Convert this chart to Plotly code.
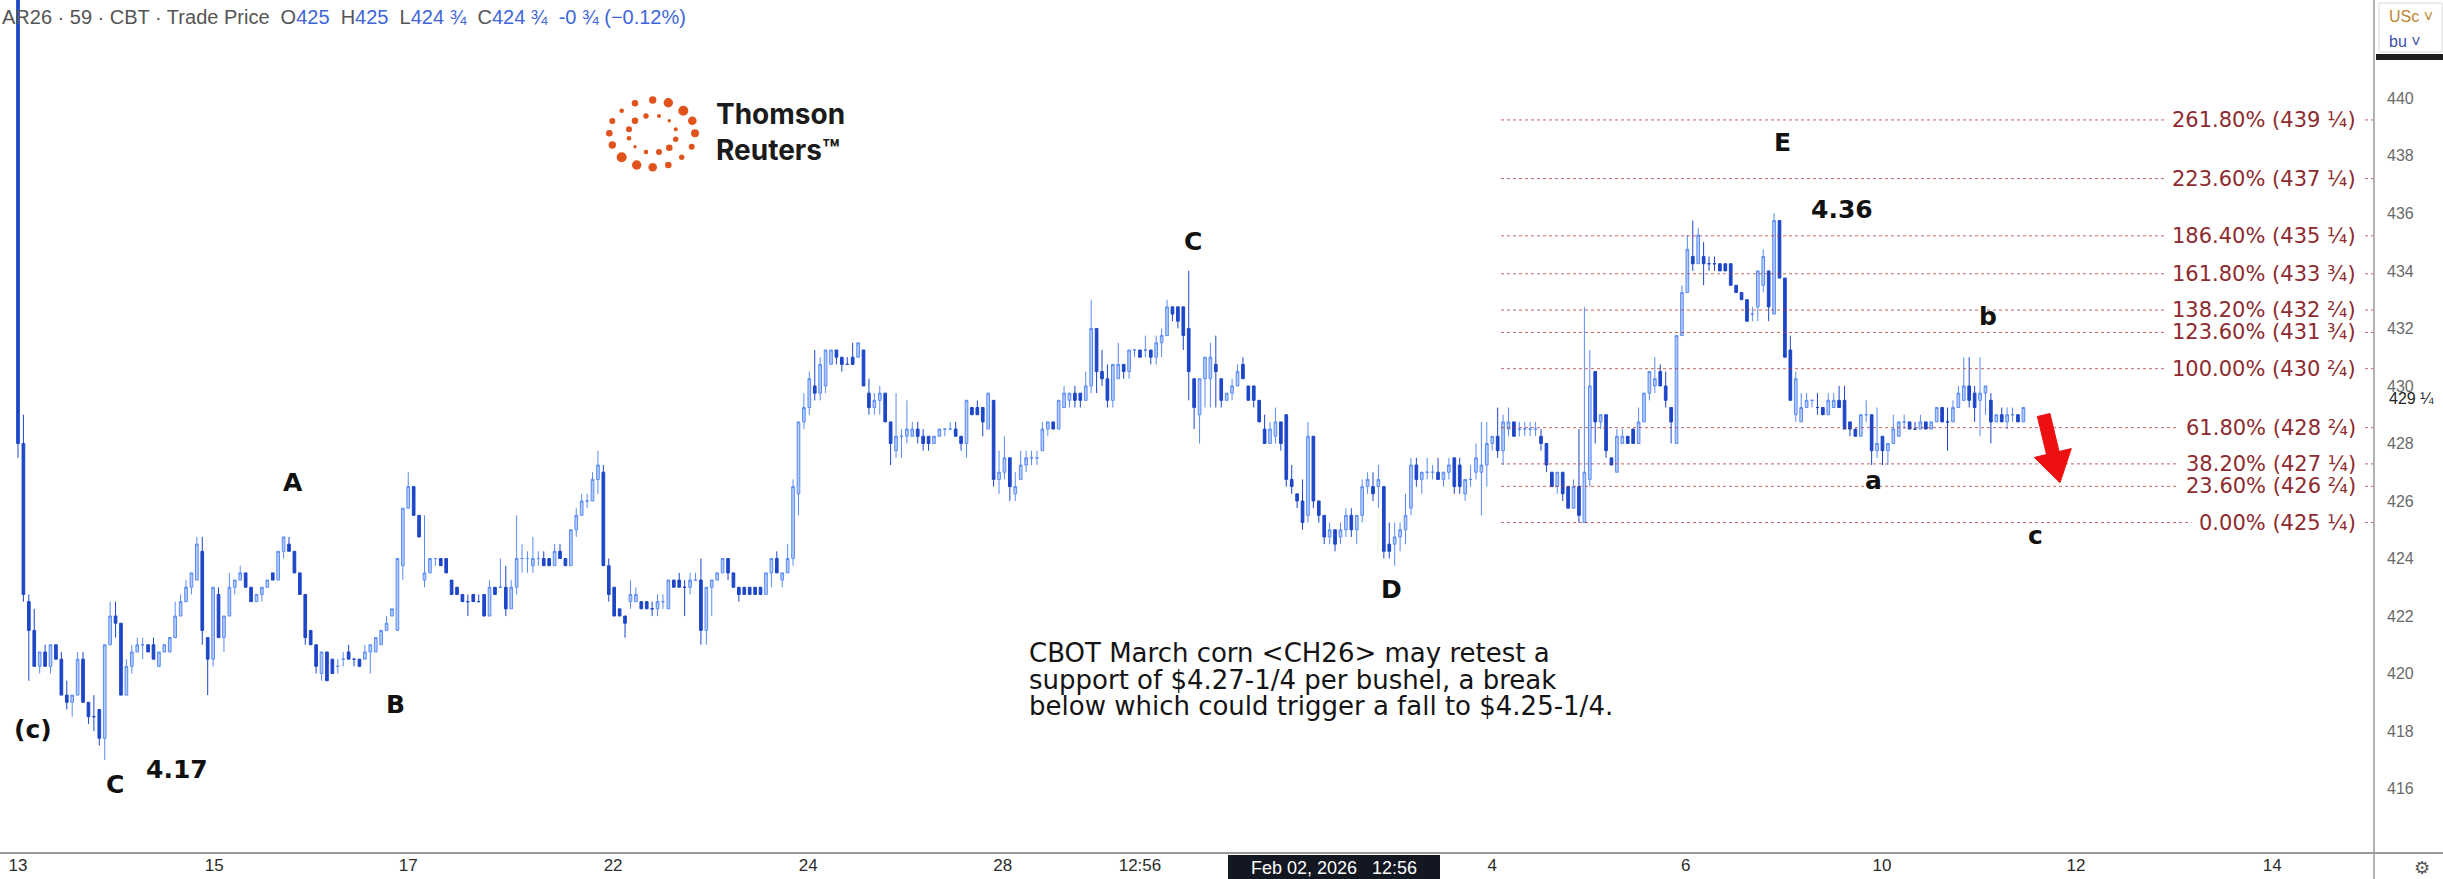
import plotly.graph_objects as go

# ------------------------------------------------------------------ data
opens = [
    446, 428, 422.5, 421.5, 420.25, 420.75, 420.25, 421, 420.5, 419.25,
    419, 419.25, 420.5, 419, 418.5, 418.75, 417.75, 421, 422, 421.75,
    419.25, 420.25, 420.75, 421, 421, 421, 420.25, 420.75, 420.75, 421.25,
    422, 422.5, 423, 423.25, 424.25, 421.25, 420.5, 422.75, 421.25, 422,
    423, 423.25, 423.5, 423, 422.5, 422.75, 423, 423.5, 423.25, 424.25,
    424.5, 424.25, 423.5, 422.75, 421.5, 421, 420, 420.75, 420.5, 420.25,
    420.5, 420.75, 420.5, 420.5, 420.5, 420.75, 420.75, 421, 421.5, 422,
    421.5, 423.75, 425.75, 426.5, 425.5, 423.25, 423.5, 424, 424, 424,
    423.25, 423, 422.75, 422.5, 422.75, 422.5, 422.75, 422, 423, 423,
    423, 422.25, 423, 424, 424, 423.75, 424, 424, 424, 423.75,
    424.25, 424, 423.75, 425, 425.5, 426, 426, 426.75, 427, 423.75,
    423, 422.25, 422, 422.5, 422.5, 422.5, 422.5, 422.25, 422.25, 422.5,
    422.25, 423.25, 423.25, 423, 423, 423.25, 423.25, 421.5, 423, 423.25,
    423.5, 424, 423.5, 423, 423, 423, 423, 423, 422.75, 423.5,
    424, 423.25, 423.5, 424, 426.25, 428.75, 429.25, 430, 429.75, 430,
    430.75, 431.25, 431, 430.75, 431, 431, 431.25, 429.75, 429.25, 429.5,
    429.75, 428.75, 427.75, 428.25, 428.25, 428.25, 428.5, 428.25, 428.25, 428,
    428.25, 428.5, 428.5, 428.5, 428.25, 428, 429.25, 429.25, 429.25, 428.5,
    429.5, 426.75, 427, 427.5, 426.25, 426.75, 427.25, 427.5, 427.5, 427.75,
    428.5, 428.75, 428.5, 429.25, 429.5, 429.75, 429.75, 429.5, 430, 432,
    430.5, 430.25, 429.5, 430.25, 430.75, 430.5, 431.25, 431.25, 431.25, 431.25,
    431, 431.5, 431.75, 432.75, 432.75, 432.75, 432, 430.25, 429, 430.25,
    430.25, 430.75, 430.25, 429.5, 429.75, 430, 430.75, 430, 430, 429.5,
    428.5, 428, 428.25, 428.75, 429, 426.75, 426.25, 426, 425.5, 428.25,
    426, 425.5, 424.75, 425, 424.75, 425, 425.5, 425, 425.5, 426.5,
    426.5, 426.5, 426.5, 424.5, 424.5, 424.75, 425, 425.75, 427.25, 426.75,
    427, 427, 427, 426.75, 427, 427.5, 427.25, 426.25, 426.75, 427,
    427, 427.25, 428, 428.25, 427.75, 428.5, 428.75, 428.5, 428.5, 428.5,
    428.5, 428.25, 428, 427, 426.5, 427, 426.5, 425.75, 426.5, 425.25,
    426.75, 430.5, 428.75, 429, 427.5, 427, 428, 428.25, 428.5, 428,
    428.75, 429.75, 430, 430.5, 430, 429.25, 428, 431.75, 433.25, 434.5,
    434.25, 434.5, 434.25, 434.25, 434.25, 434.25, 434.25, 433.5, 433.25, 433,
    432.5, 432.75, 433.5, 434, 432.5, 435.75, 433.75, 431.25, 429, 428.75,
    429.25, 429.5, 429.25, 429.25, 429, 429.25, 429.5, 429.5, 428.75, 428.5,
    428.25, 429, 429, 427.75, 428.25, 427.75, 428, 428.25, 428.75, 428.75,
    428.5, 428.5, 428.75, 428.5, 428.75, 429.25, 428.75, 428.75, 429.25, 429.5,
    430, 429.75, 429.5, 429.75, 429.5, 428.75, 429, 428.75, 429, 429,
    428.75,
]
highs = [
    447, 429, 422.75, 422.25, 420.75, 421, 421, 421, 420.75, 419.75,
    419.25, 420.75, 420.75, 419, 419.25, 418.75, 421, 422.5, 422.5, 421.75,
    420.5, 421, 421.25, 421.25, 421, 421.25, 420.75, 421, 421.25, 422.5,
    422.75, 423.25, 423.5, 424.75, 424.75, 421.25, 423, 423, 422, 423.5,
    423.25, 423.75, 423.5, 423, 422.75, 423, 423.25, 423.5, 424.25, 424.75,
    424.75, 424.25, 423.5, 422.75, 421.5, 421, 420.75, 420.75, 420.5, 420.5,
    420.75, 421, 420.5, 420.5, 421, 421, 421.25, 421.5, 422, 422.25,
    424, 425.75, 427, 426.5, 425.5, 425.5, 424, 424, 424, 424,
    423.25, 423, 422.75, 422.75, 422.75, 422.75, 422.75, 423.25, 423, 424,
    423.75, 423.25, 425.5, 424.5, 424.25, 424.75, 424.25, 424.25, 424, 424.5,
    424.5, 424, 425, 425.75, 426.25, 426.25, 427, 427.75, 427.25, 424,
    423, 422.25, 422, 423.25, 423, 422.5, 422.5, 422.5, 422.75, 422.75,
    423.25, 423.25, 423.5, 423.25, 423.5, 423.5, 424, 423, 423.25, 423.5,
    424, 424, 423.5, 423, 423, 423, 423, 423, 423.5, 424,
    424.25, 423.5, 424.5, 426.75, 428.75, 429.75, 430.5, 431.25, 431, 431.25,
    431.25, 431.25, 431, 431, 431.5, 431.5, 431.25, 430.25, 429.75, 430,
    429.75, 428.75, 429.75, 428.5, 429.5, 428.75, 428.75, 428.5, 428.25, 428.25,
    428.5, 428.5, 428.75, 428.75, 428.25, 429.5, 429.25, 429.5, 429.25, 429.75,
    429.5, 427.75, 428.25, 427.5, 427, 427.75, 427.75, 427.75, 427.75, 428.75,
    428.75, 428.75, 429.5, 430, 429.75, 430, 429.75, 430.5, 433, 432,
    431.25, 430.75, 430.75, 431.5, 430.75, 431.25, 431.25, 431.25, 431.75, 431.25,
    431.75, 432, 433, 432.75, 432.75, 432.75, 434, 430.25, 430.25, 431,
    431.5, 431.75, 430.25, 429.75, 430.25, 430.75, 431, 430, 430, 429.5,
    429, 428.75, 429.25, 428.75, 429, 427.25, 426.25, 426.75, 428.75, 428.25,
    426, 425.5, 425.25, 425, 425.25, 425.75, 425.75, 425.5, 426.75, 427,
    427, 427.25, 426.5, 425.25, 425.25, 425.25, 426.25, 427.5, 427.5, 427,
    427.5, 427.25, 427.5, 427, 427.5, 427.5, 427.5, 426.75, 427.25, 428,
    428.75, 428.75, 428.25, 429.25, 429, 429.25, 428.75, 428.75, 428.75, 428.75,
    428.75, 428.5, 428, 427, 427, 427, 426.5, 426.75, 428.5, 432.75,
    431.25, 430.5, 429, 429, 427.5, 428.5, 428.5, 428.25, 428.5, 429.25,
    429.75, 430.5, 431, 430.75, 430.5, 429.25, 431.75, 433.5, 435.25, 435.75,
    435.5, 435, 434.5, 434.5, 434.25, 434.25, 434.25, 433.5, 433.25, 433,
    432.75, 434, 434.75, 434, 436, 435.75, 433.75, 431.75, 430.5, 429.75,
    429.75, 429.5, 429.75, 429.25, 429.75, 429.75, 430, 430, 428.75, 428.5,
    429, 429.5, 429, 429.25, 428.25, 428, 429, 428.75, 429, 428.75,
    428.75, 429, 428.75, 428.75, 429.25, 429.25, 429.25, 429.5, 430, 431,
    431, 430, 431, 430, 429.75, 429, 429.25, 429.25, 429.25, 429,
    429.25,
]
lows = [
    427.5, 422.5, 419.75, 420.25, 420, 420.25, 420, 420.5, 419.25, 418.75,
    418.5, 419.25, 419, 418.25, 418, 417.5, 417, 421, 421.25, 419.25,
    419.25, 420, 420.75, 420.5, 420.75, 420.5, 420.25, 420.75, 420.75, 421.25,
    422, 422.5, 422.75, 423.25, 421, 419.25, 420.25, 421.25, 420.75, 422,
    422.75, 423.25, 423, 422.5, 422.5, 422.5, 423, 423.25, 423.25, 424,
    424.25, 423.5, 422.75, 421, 421, 420, 419.75, 419.75, 420, 420,
    420.25, 420.5, 420.25, 420.25, 420.5, 420, 420.75, 421, 421.5, 422,
    421.5, 423.25, 425.75, 425.5, 424.75, 423, 423.5, 423.75, 423.75, 423.5,
    422.75, 422.75, 422.5, 422, 422.5, 422.5, 422, 422, 422.75, 423,
    422, 422.25, 422.75, 423.5, 423.5, 423.5, 423.75, 423.75, 423.75, 423.75,
    424, 423.75, 423.75, 424.75, 425.5, 425.75, 426, 426.25, 423.75, 422.5,
    422, 422, 421.25, 422.25, 422.5, 422.25, 422.25, 422, 422, 422.25,
    422.25, 423, 423, 422, 422.75, 423.25, 421, 421, 422, 423.25,
    423.5, 423.25, 423, 422.5, 422.75, 422.75, 422.75, 422.75, 422.75, 423,
    423.5, 423, 423.5, 423.75, 425.5, 428.5, 429, 429.5, 429.5, 429.75,
    430.75, 430.75, 430.5, 430.75, 430.75, 431, 430, 429, 429, 429,
    428.75, 427.25, 427.5, 427.5, 428, 428.25, 428, 427.75, 427.75, 428,
    428.25, 428.25, 428.5, 428.25, 427.75, 427.5, 429, 429, 428.25, 428.5,
    426.5, 426.25, 426.75, 426, 426, 426.75, 427, 427.25, 427.25, 427.75,
    428.25, 428.5, 428.5, 429.25, 429.25, 429.25, 429.25, 429.5, 429.75, 429.75,
    430, 429.25, 429.25, 430.25, 430.25, 430.25, 431, 431, 431, 430.75,
    430.75, 431, 431.75, 432.25, 432, 431.25, 429.5, 428.5, 428, 429.25,
    429.25, 429.25, 429.25, 429.5, 429.5, 430, 430.25, 429.5, 429.25, 428.75,
    428, 428, 428, 427.75, 426.5, 426.25, 425.75, 425, 425.25, 425.75,
    425.25, 424.5, 424.5, 424.25, 424.5, 424.75, 424.75, 424.5, 425.25, 426.25,
    426, 425.75, 424, 424, 423.75, 424.25, 424.5, 425.5, 426.5, 426.25,
    426.75, 426.75, 426.75, 426.5, 426.75, 426.25, 426.25, 426, 426.5, 426.75,
    425.5, 426.5, 427.75, 427.5, 427.25, 428.25, 428.25, 428.25, 428.25, 428.25,
    428.25, 427.75, 427, 426.5, 426.25, 426, 425.75, 425.75, 425.25, 425.25,
    426.5, 428, 428.5, 427.5, 427.25, 427, 428, 428, 428, 428,
    428.75, 429.5, 429.75, 430, 429.25, 428, 428, 431.75, 433.25, 434,
    434.25, 433.5, 434, 434, 434, 434, 433.5, 433.25, 433, 432.25,
    432.25, 432.25, 433.25, 432.25, 432.5, 433.75, 431, 429.5, 428.75, 428.75,
    429.25, 429.25, 429, 429, 429, 429.25, 429.25, 428.5, 428.25, 428.25,
    428.25, 428.75, 427.25, 427.5, 427.25, 427.25, 428, 428.25, 428.5, 428.5,
    428.5, 428.5, 428.5, 428.5, 428.75, 428.75, 427.75, 428.75, 429.25, 429.5,
    429.25, 428.75, 428.25, 429, 428, 428.75, 428.75, 428.5, 428.75, 428.75,
    428.75,
]
closes = [
    428, 422.75, 421.5, 420.25, 420.75, 420.25, 421, 420.5, 419.25, 419,
    419.25, 420.5, 419, 418.5, 418.5, 417.75, 421, 422, 421.75, 419.25,
    420.25, 420.75, 421, 421, 420.75, 420.5, 420.75, 421, 421.25, 422,
    422.5, 423, 423.5, 424.5, 421.5, 420.5, 423, 421.25, 422, 423,
    423.25, 423.5, 423, 422.5, 422.75, 423, 423.25, 423.25, 424.25, 424.75,
    424.25, 423.5, 422.75, 421.25, 421, 420.25, 420.75, 419.75, 420, 420.25,
    420.5, 420.5, 420.5, 420.25, 420.75, 421, 421.25, 421.5, 421.75, 422.25,
    424, 425.75, 426.5, 425.5, 424.75, 423.5, 424, 424, 423.75, 423.5,
    422.75, 422.75, 422.5, 422.5, 422.5, 422.5, 422, 423, 422.75, 423,
    422.25, 423, 424, 424, 424, 424, 424, 423.75, 423.75, 424.25,
    424, 423.75, 425, 425.5, 426, 426, 426.75, 427.25, 423.75, 422.75,
    422, 422, 421.75, 422.75, 422.75, 422.25, 422.25, 422.25, 422.5, 422.5,
    423.25, 423, 423, 423, 423.25, 423.25, 421.5, 423, 423.25, 423.5,
    424, 423.5, 423, 422.75, 422.75, 422.75, 422.75, 422.75, 423.5, 424,
    423.5, 423.5, 424, 426.5, 428.75, 429.25, 430.25, 429.75, 430.75, 431.25,
    431.25, 431, 430.75, 430.75, 430.75, 431.5, 430, 429.25, 429.5, 429.75,
    428.75, 428, 428.25, 428.25, 428.5, 428.5, 428.25, 428, 428, 428.25,
    428.5, 428.5, 428.5, 428.25, 428, 429.5, 429, 429, 428.75, 429.75,
    426.75, 427, 427.5, 426.5, 426.5, 427.25, 427.5, 427.5, 427.5, 428.5,
    428.75, 428.5, 429.5, 429.75, 429.75, 429.5, 429.5, 430, 432, 430.5,
    430.25, 429.5, 430.75, 430.75, 430.5, 431.25, 431.25, 431, 431.25, 431,
    431.5, 431.75, 432.75, 432.5, 432.25, 431.75, 430.5, 429.25, 430.25, 431,
    431, 430.5, 429.5, 429.75, 430, 430.5, 430.25, 429.5, 429.5, 428.75,
    428, 428.5, 428.75, 428, 426.75, 426.5, 426, 425.25, 428.25, 426,
    425.5, 424.75, 425, 424.5, 425, 425.5, 425, 425.5, 426.5, 426.75,
    426.25, 426.75, 424.25, 424.25, 424.75, 425, 425.5, 427.25, 426.75, 427,
    427, 427, 426.75, 427, 427.25, 426.5, 426.5, 426.75, 426.75, 427.5,
    427.25, 428, 428.25, 427.75, 428.75, 428.75, 428.25, 428.5, 428.5, 428.5,
    428.5, 428, 427.25, 426.5, 427, 426.25, 425.75, 426.5, 425.5, 427,
    430, 428.75, 429, 427.75, 427.25, 428.25, 428.25, 428, 428, 428.75,
    429.75, 430.5, 430.25, 430, 429.5, 428.75, 431.75, 433.25, 434.75, 434.25,
    435.25, 434.25, 434.25, 434.25, 434, 434, 433.5, 433.25, 433, 432.25,
    432.5, 434, 434.5, 432.75, 435.75, 433.75, 431, 429.5, 430.25, 429.25,
    429.5, 429.5, 429.25, 429, 429.5, 429.5, 429.25, 428.5, 428.5, 428.25,
    429, 429, 427.75, 428, 427.75, 428, 428.5, 428.75, 428.75, 428.5,
    428.5, 428.75, 428.5, 428.75, 429.25, 428.75, 428.75, 429.25, 429.75, 430,
    429.5, 429.25, 429.75, 430, 428.75, 429, 428.75, 429, 429, 428.75,
    429.25,
]
bar_index = list(range(len(opens)))

x_tick_pos = [0, 36.2, 72.0, 109.8, 145.8, 181.7, 207.0, 272.0, 307.7, 343.9, 379.7, 415.9]
x_tick_text = ["13", "15", "17", "22", "24", "28", "12:56", "4", "6", "10", "12", "14"]
y_tick_vals = [416, 418, 420, 422, 424, 426, 428, 430, 432, 434, 436, 438, 440]
last_price_text = "429 ¼"

fib_levels = [439.25, 437.21, 435.22, 433.9, 432.64, 431.86, 430.6, 428.55, 427.29, 426.51, 425.25]
fib_labels = ["261.80% (439 ¼)", "223.60% (437 ¼)", "186.40% (435 ¼)", "161.80% (433 ¾)",
              "138.20% (432 ²⁄₄)", "123.60% (431 ¾)", "100.00% (430 ²⁄₄)", "61.80% (428 ²⁄₄)",
              "38.20% (427 ¼)", "23.60% (426 ²⁄₄)", "0.00% (425 ¼)"]

wave_text = ["(c)", "C", "4.17", "A", "B", "C", "D", "E", "4.36", "b", "a", "c"]
wave_idx = [2.8, 17.9, 29.3, 50.7, 69.6, 216.8, 253.5, 325.5, 336.5, 363.5, 342.4, 372.3]
wave_price = [418.07, 416.13, 416.65, 426.63, 418.91, 435.04, 422.91, 438.45, 436.12, 432.43, 426.7, 424.79]

comment_lines = ["CBOT March corn <CH26> may retest a",
                 "support of $4.27-1/4 per bushel, a break",
                 "below which could trigger a fall to $4.25-1/4."]

# ------------------------------------------------------------------ geometry
W, HGT = 2443, 879
PLOT_W, PLOT_H = 2374, 853
BAR0_PX, BAR_STEP = 18.0, 5.42
Y_TOP, Y_BOT = 443.42, 413.76
FIB_START_PX = 1501
FIB_LABEL_RIGHT_PX = 2358
FIB_FONT = 21


def px(x):
    return x / PLOT_W


def py(y):
    return 1 - y / PLOT_H


def idx_of_px(x):
    return (x - BAR0_PX) / BAR_STEP


ADV = {'.': 0.318, '%': 0.95, ' ': 0.318, '(': 0.39, ')': 0.39, '¼': 0.955, '¾': 0.955,
       '²': 0.401, '⁄': 0.167, '₄': 0.401}


def text_w(s, size):
    return sum(ADV.get(ch, 0.636) for ch in s) * size


fig = go.Figure()
fig.add_trace(go.Candlestick(
    x=bar_index, open=opens, high=highs, low=lows, close=closes,
    increasing=dict(line=dict(color="#5A8CF5", width=1), fillcolor="#b4cafb"),
    decreasing=dict(line=dict(color="#1D46C8", width=1), fillcolor="#1D46C8"),
    showlegend=False, hoverinfo="skip",
))

shapes = []
annotations = []

# fib retracement lines + labels
for lvl, lab in zip(fib_levels, fib_labels):
    end_px = FIB_LABEL_RIGHT_PX - text_w(lab, FIB_FONT) - 10
    shapes.append(dict(type="line", xref="x", yref="y",
                       x0=idx_of_px(FIB_START_PX), x1=idx_of_px(end_px), y0=lvl, y1=lvl,
                       line=dict(color="rgba(170,50,50,0.75)", width=1, dash="dot")))
    shapes.append(dict(type="line", xref="x", yref="y",
                       x0=idx_of_px(2365), x1=idx_of_px(PLOT_W), y0=lvl, y1=lvl,
                       line=dict(color="rgba(170,50,50,0.75)", width=1, dash="dot")))
    annotations.append(dict(xref="paper", yref="y", x=px(FIB_LABEL_RIGHT_PX), y=lvl,
                            text=lab, showarrow=False, xanchor="right", yanchor="middle",
                            font=dict(family="DejaVu Sans", size=FIB_FONT, color="#8E2B30")))

# wave labels
for t, xi, yv in zip(wave_text, wave_idx, wave_price):
    annotations.append(dict(xref="x", yref="y", x=xi, y=yv, text=t, showarrow=False,
                            xanchor="center", yanchor="middle",
                            font=dict(family="DejaVu Sans", size=25, color="#111111", weight="bold")))

# comment
for i, line in enumerate(comment_lines):
    annotations.append(dict(xref="paper", yref="paper", x=px(1027), y=py(653 + 26.5 * i),
                            text=line, showarrow=False, xanchor="left", yanchor="middle",
                            font=dict(family="DejaVu Sans", size=26, color="#141414")))

# header
gray, blue = "#555555", "#3E66DA"
nb = "\u00a0"
header = (f"AR26 · 59 · CBT · Trade Price{nb}{nb}"
          f"O<span style='color:{blue}'>425</span>{nb}{nb}"
          f"H<span style='color:{blue}'>425</span>{nb}{nb}"
          f"L<span style='color:{blue}'>424 ¾</span>{nb}{nb}"
          f"C<span style='color:{blue}'>424 ¾</span>{nb}{nb}"
          f"<span style='color:{blue}'>-0 ¾ (−0.12%)</span>")
annotations.append(dict(xref="paper", yref="paper", x=0, y=py(17), text=header, showarrow=False,
                        xanchor="left", yanchor="middle",
                        font=dict(family="Liberation Sans", size=20, color=gray)))

# Thomson Reuters logo
LOGO_DOTS = [
    (635, 103.3, 3.3), (652.7, 100, 3.7), (668.3, 102.7, 4.7), (683.3, 110.7, 5.0),
    (692.3, 120.7, 4.3), (695, 133.3, 4.0), (691.7, 146.7, 3.0), (681.7, 157.3, 2.7),
    (668.3, 165, 3.3), (652.7, 167.3, 4.3), (636.7, 165, 4.7), (621.7, 157.3, 5.0),
    (612.3, 145, 3.7), (609.3, 133.3, 3.3), (612.3, 121, 3.0), (621.7, 110.7, 2.3),
    (646, 116, 2.7), (659, 116, 2.0), (669.3, 120.7, 1.7), (675.7, 129.3, 2.0),
    (675.7, 139.3, 2.7), (669.3, 147.7, 3.3), (659, 152, 3.0), (646, 152, 2.3),
    (635, 146.7, 1.7), (629, 138.3, 2.3), (629, 129.3, 3.0), (635, 120.7, 3.3),
]
for cx, cy, r in LOGO_DOTS:
    shapes.append(dict(type="circle", xref="paper", yref="paper",
                       x0=px(cx - r), x1=px(cx + r), y0=py(cy + r), y1=py(cy - r),
                       fillcolor="#E0531C", line=dict(width=0)))
annotations.append(dict(xref="paper", yref="paper", x=px(714), y=py(132),
                        text="Thomson<br>Reuters™",
                        showarrow=False, xanchor="left", yanchor="middle", align="left",
                        font=dict(family="Inter", size=28, color="#1b1b1b", weight=700)))

# red arrow
arrow_pts = [(2037.4, 416.5), (2050, 413.5), (2059.1, 451.5), (2071.3, 448.6),
             (2060, 482.7), (2034.3, 457.4), (2046.5, 454.5)]
path = "M " + " L ".join(f"{px(x):.5f},{py(y):.5f}" for x, y in arrow_pts) + " Z"
shapes.append(dict(type="path", xref="paper", yref="paper", path=path,
                   fillcolor="#EE1010", line=dict(color="#EE1010", width=1)))

# right price-axis border and bottom time-axis border
shapes.append(dict(type="line", xref="paper", yref="paper", x0=1, x1=1, y0=py(HGT), y1=1,
                   line=dict(color="#9a9a9a", width=1.5)))
shapes.append(dict(type="line", xref="paper", yref="paper", x0=0, x1=px(W), y0=0, y1=0,
                   line=dict(color="#9a9a9a", width=2)))

# last price label
annotations.append(dict(xref="paper", yref="paper", x=px(2387), y=py(398), text=last_price_text,
                        showarrow=False, xanchor="left", yanchor="middle",
                        font=dict(family="Liberation Sans", size=16, color="#222222")))

# currency / unit box top right
shapes.append(dict(type="rect", xref="paper", yref="paper", x0=px(2379), x1=px(2442),
                   y0=py(52), y1=py(3), line=dict(color="#d8d8d8", width=1), fillcolor="white"))
shapes.append(dict(type="rect", xref="paper", yref="paper", x0=px(2376), x1=px(W),
                   y0=py(60), y1=py(54), line=dict(width=0), fillcolor="#1e1e1e"))
annotations.append(dict(xref="paper", yref="paper", x=px(2387), y=py(17), text="USc ˅",
                        showarrow=False, xanchor="left", yanchor="middle",
                        font=dict(family="Liberation Sans", size=16, color="#B8862F")))
annotations.append(dict(xref="paper", yref="paper", x=px(2387), y=py(42), text="bu ˅",
                        showarrow=False, xanchor="left", yanchor="middle",
                        font=dict(family="Liberation Sans", size=16, color="#3B4FA8")))

# crosshair date box on time axis
shapes.append(dict(type="rect", xref="paper", yref="paper", x0=px(1228), x1=px(1440),
                   y0=py(HGT + 2), y1=py(855), line=dict(width=0), fillcolor="#131722"))
annotations.append(dict(xref="paper", yref="paper", x=px(1334), y=py(868),
                        text=f"Feb 02, 2026{nb}{nb}{nb}12:56", showarrow=False,
                        xanchor="center", yanchor="middle",
                        font=dict(family="Liberation Sans Narrow, Liberation Sans", size=18, color="white")))
annotations.append(dict(xref="paper", yref="paper", x=px(2422), y=py(867), text="⚙",
                        showarrow=False, xanchor="center", yanchor="middle",
                        font=dict(family="DejaVu Sans", size=18, color="#555555")))

fig.update_layout(
    width=W, height=HGT,
    margin=dict(l=0, r=W - PLOT_W, t=0, b=HGT - PLOT_H),
    paper_bgcolor="white", plot_bgcolor="white",
    showlegend=False,
    shapes=shapes, annotations=annotations,
    xaxis=dict(range=[idx_of_px(0), idx_of_px(PLOT_W)], showgrid=False, zeroline=False,
               rangeslider=dict(visible=False), tickmode="array",
               tickvals=x_tick_pos, ticktext=x_tick_text, ticks="",
               tickfont=dict(family="Liberation Sans Narrow, Liberation Sans", size=17, color="#2b2b2b"),
               showline=False, fixedrange=True),
    yaxis=dict(range=[Y_BOT, Y_TOP], side="right", showgrid=False, zeroline=False,
               tickmode="array", tickvals=y_tick_vals, ticktext=[str(v) for v in y_tick_vals],
               ticks="", ticklabelstandoff=12,
               tickfont=dict(family="Liberation Sans", size=16, color="#6a6a6a"),
               showline=False, fixedrange=True),
)

fig.write_html("out.html", config={"displayModeBar": False},
               post_script="document.body.style.margin='0';")
